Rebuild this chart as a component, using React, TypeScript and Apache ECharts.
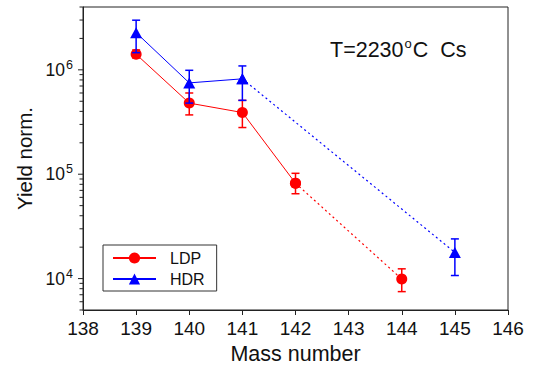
import React, { useEffect, useRef } from "react";
import * as echarts from "echarts";

// ---- data ----
const massLDP = [139, 140, 141, 142, 144];
const yieldLDP = [1.41e6, 4.8e5, 3.9e5, 8.2e4, 9.9e3];
const loLDP = [1.3e6, 3.7e5, 2.8e5, 6.5e4, 7.5e3];
const hiLDP = [1.55e6, 6.0e5, 5.1e5, 1.02e5, 1.24e4];
const solidLDP = 4; // first 4 points joined by solid line, rest dotted

const massHDR = [139, 140, 141, 145];
const yieldHDR = [2.27e6, 7.5e5, 8.2e5, 1.78e4];
const loHDR = [1.46e6, 4.8e5, 5.1e5, 1.07e4];
const hiHDR = [2.99e6, 9.9e5, 1.09e6, 2.4e4];
const solidHDR = 3;

const xMin = 138;
const xMax = 146;
const yMin = 5000;
const yMax = 4e6;
const yDecades = [4, 5, 6];
const minorMultipliers = [2, 3, 4, 5, 6, 7, 8, 9];

const FONT = "Liberation Sans, Arial, sans-serif";
const RED = "#ff0000";
const BLUE = "#0000ff";
const INK = "#111111";

const lg = (v: number) => Math.log10(v);

function yTickData(): number[][] {
  // [log value, isMajor]
  const out: number[][] = yDecades.map((d) => [d, 1]);
  for (let d = 3; d <= 6; d++) {
    for (const m of minorMultipliers) {
      const v = m * Math.pow(10, d);
      if (v >= yMin - 1e-6 && v <= yMax + 1e-6) out.push([lg(v), 0]);
    }
  }
  return out;
}

function errorSeries(name: string, xs: number[], lo: number[], hi: number[], color: string, z: number) {
  return {
    name,
    type: "custom",
    z,
    silent: true,
    data: xs.map((x, i) => [x, lg(lo[i]), lg(hi[i])]),
    renderItem: (params: any, api: any) => {
      const x = api.value(0);
      const p1 = api.coord([x, api.value(1)]);
      const p2 = api.coord([x, api.value(2)]);
      const w = 4;
      const style = { stroke: color, lineWidth: 1.5 };
      return {
        type: "group",
        children: [
          { type: "line", shape: { x1: p1[0], y1: p1[1], x2: p2[0], y2: p2[1] }, style },
          { type: "line", shape: { x1: p1[0] - w, y1: p1[1], x2: p1[0] + w, y2: p1[1] }, style },
          { type: "line", shape: { x1: p2[0] - w, y1: p2[1], x2: p2[0] + w, y2: p2[1] }, style },
        ],
      };
    },
  };
}

export default function App() {
  const ref = useRef<HTMLDivElement>(null);
  useEffect(() => {
    if (!ref.current) return;
    const chart = echarts.init(ref.current, undefined, { renderer: "svg" });
    const ldpPts = massLDP.map((x, i) => [x, lg(yieldLDP[i])]);
    const hdrPts = massHDR.map((x, i) => [x, lg(yieldHDR[i])]);
    const yLo = lg(yMin);
    const yHi = lg(yMax);
    const option: any = {
      animation: false,
      backgroundColor: "#ffffff",
      grid: {
        left: 83,
        top: 7,
        width: 425,
        height: 305,
        show: true,
        borderColor: "#222",
        borderWidth: 1,
        backgroundColor: "transparent",
      },
      xAxis: {
        type: "value",
        min: xMin,
        max: xMax,
        interval: 1,
        name: "Mass number",
        nameLocation: "middle",
        nameGap: 33,
        nameTextStyle: { fontFamily: FONT, fontSize: 21.5, color: INK },
        axisLine: { show: true, lineStyle: { color: "#222", width: 1 } },
        axisTick: { show: true, inside: false, length: 5, lineStyle: { color: "#222" } },
        axisLabel: { fontFamily: FONT, fontSize: 19, color: INK, margin: 9 },
        splitLine: { show: false },
      },
      yAxis: {
        type: "value",
        min: yLo,
        max: yHi,
        position: "left",
        name: "Yield norm.",
        nameLocation: "middle",
        nameRotate: 90,
        nameGap: 47,
        nameTextStyle: { fontFamily: FONT, fontSize: 20.5, color: INK },
        axisLine: { show: true, lineStyle: { color: "#222", width: 1 } },
        axisTick: { show: false },
        axisLabel: {
          customValues: yDecades,
          margin: 10,
          formatter: (v: number) => `{b|10}{s|${Math.round(v)}}`,
          rich: {
            b: { fontFamily: FONT, fontSize: 17.5, color: INK },
            s: { fontFamily: FONT, fontSize: 12.5, color: INK, padding: [0, 0, 10, 1] },
          },
        },
        splitLine: { show: false },
      },
      legend: {
        data: ["LDP", "HDR"],
        orient: "vertical",
        left: 103,
        top: 245,
        itemWidth: 43,
        itemHeight: 14,
        itemGap: 5,
        padding: [5, 12, 4, 9],
        borderColor: "#333",
        borderWidth: 1,
        backgroundColor: "#fff",
        textStyle: { fontFamily: FONT, fontSize: 16, color: INK, padding: [0, 0, 0, 9] },
      },
      graphic: [
        {
          type: "text",
          x: 330,
          y: 37,
          style: {
            text: "{a|T=2230}{s|o}{a|C  Cs}",
            rich: {
              a: { fontFamily: FONT, fontSize: 21.5, fill: INK },
              s: { fontFamily: FONT, fontSize: 13, fill: INK, padding: [0, 1, 12, 1] },
            },
          },
        },
      ],
      series: [
        {
          name: "y-ticks",
          type: "custom",
          silent: true,
          clip: false,
          z: 1,
          data: yTickData(),
          renderItem: (params: any, api: any) => {
            const p = api.coord([xMin, api.value(0)]);
            const len = api.value(1) ? 5 : 3.5;
            return {
              type: "line",
              shape: { x1: p[0] - len, y1: p[1], x2: p[0], y2: p[1] },
              style: { stroke: "#222", lineWidth: 1 },
            };
          },
        },
        errorSeries("LDP-err", massLDP, loLDP, hiLDP, RED, 2),
        {
          name: "LDP",
          type: "line",
          z: 3,
          data: ldpPts.slice(0, solidLDP),
          symbol: "circle",
          symbolSize: 11,
          itemStyle: { color: RED },
          lineStyle: { color: RED, width: 1 },
        },
        {
          name: "LDP-ext",
          type: "line",
          z: 3,
          data: ldpPts.slice(solidLDP - 1),
          symbol: "circle",
          symbolSize: 11,
          itemStyle: { color: RED },
          lineStyle: { color: RED, width: 1.2, type: [2, 3] },
        },
        errorSeries("HDR-err", massHDR, loHDR, hiHDR, BLUE, 4),
        {
          name: "HDR",
          type: "line",
          z: 5,
          data: hdrPts.slice(0, solidHDR),
          symbol: "triangle",
          symbolSize: [12, 11],
          itemStyle: { color: BLUE },
          lineStyle: { color: BLUE, width: 1 },
        },
        {
          name: "HDR-ext",
          type: "line",
          z: 5,
          data: hdrPts.slice(solidHDR - 1),
          symbol: "triangle",
          symbolSize: [12, 11],
          itemStyle: { color: BLUE },
          lineStyle: { color: BLUE, width: 1.2, type: [2, 3] },
        },
      ],
    };
    chart.setOption(option);
    return () => chart.dispose();
  }, []);
  return (
    <div
      ref={ref}
      style={{ position: "fixed", left: 0, top: 0, width: 535, height: 370, background: "#fff" }}
    />
  );
}
